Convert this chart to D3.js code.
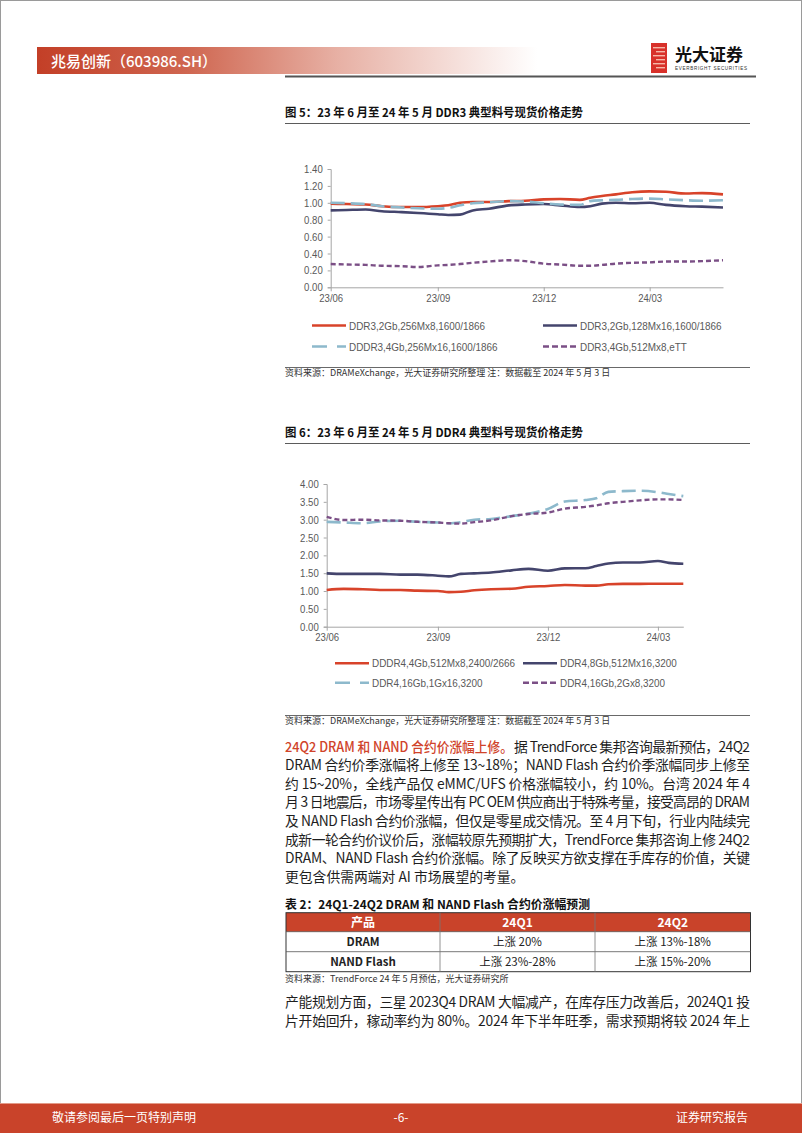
<!DOCTYPE html>
<html><head><meta charset="utf-8">
<script src="https://cdn.jsdelivr.net/npm/d3@7"></script>
<style>
html,body{margin:0;padding:0;background:#fff;}
svg{display:block;}
</style></head>
<body>
<svg id="page" width="802" height="1133"></svg>
<script>
// ---------------- DATA ----------------
const ddr3Dates = ["2023-06-01","2023-06-15","2023-07-01","2023-07-15","2023-08-01","2023-08-15","2023-09-01","2023-09-10","2023-09-20","2023-10-01","2023-10-15","2023-11-01","2023-11-15","2023-12-01","2023-12-15","2024-01-01","2024-01-10","2024-01-20","2024-02-01","2024-02-15","2024-03-01","2024-03-15","2024-04-01","2024-04-15","2024-05-03"];
const ddr3_2Gb_256Mx8   = [0.99,0.985,0.98,0.96,0.95,0.95,0.96,0.97,1.00,1.01,1.01,1.02,1.025,1.04,1.045,1.035,1.06,1.08,1.10,1.125,1.135,1.13,1.11,1.115,1.10];
const ddr3_2Gb_128Mx16  = [0.91,0.915,0.92,0.90,0.89,0.88,0.865,0.855,0.86,0.91,0.93,0.97,0.98,0.985,0.97,0.95,0.96,0.99,1.00,0.995,1.00,0.975,0.96,0.955,0.945];
const ddr3_4Gb_256Mx16  = [1.00,0.995,0.985,0.96,0.945,0.935,0.93,0.94,0.97,0.995,1.005,1.02,1.015,0.995,0.98,0.975,1.02,1.03,1.035,1.045,1.05,1.04,1.03,1.025,1.03];
const ddr3_4Gb_512Mx8   = [0.275,0.27,0.265,0.255,0.25,0.24,0.26,0.265,0.275,0.29,0.305,0.32,0.31,0.28,0.27,0.255,0.255,0.265,0.28,0.29,0.295,0.305,0.305,0.31,0.32];
const ddr3Names = ["DDR3,2Gb,256Mx8,1600/1866","DDR3,2Gb,128Mx16,1600/1866","DDDR3,4Gb,256Mx16,1600/1866","DDR3,4Gb,512Mx8,eTT"];
const ddr3Ticks = ["0.00","0.20","0.40","0.60","0.80","1.00","1.20","1.40"];

const ddr4Dates = ["2023-06-01","2023-06-15","2023-07-01","2023-07-15","2023-08-01","2023-08-15","2023-09-01","2023-09-10","2023-09-20","2023-10-01","2023-10-15","2023-11-01","2023-11-15","2023-12-01","2023-12-15","2024-01-01","2024-01-10","2024-01-20","2024-02-01","2024-02-15","2024-03-01","2024-03-10","2024-03-22"];
const ddr4_4Gb_512Mx8   = [1.03,1.06,1.05,1.03,1.03,1.01,1.00,0.97,0.98,1.02,1.05,1.065,1.12,1.14,1.17,1.15,1.15,1.19,1.20,1.20,1.205,1.205,1.205];
const ddr4_8Gb_512Mx16  = [1.495,1.48,1.48,1.48,1.46,1.46,1.43,1.41,1.48,1.495,1.52,1.58,1.62,1.57,1.635,1.64,1.70,1.77,1.80,1.80,1.84,1.79,1.765];
const ddr4_16Gb_1Gx16   = [2.94,2.92,2.90,2.95,2.97,2.94,2.92,2.90,2.93,3.00,3.02,3.10,3.17,3.30,3.51,3.55,3.60,3.78,3.80,3.81,3.77,3.72,3.66];
const ddr4_16Gb_2Gx8    = [3.08,2.99,3.00,2.98,2.97,2.94,2.92,2.90,2.89,2.93,2.98,3.10,3.16,3.20,3.31,3.36,3.40,3.46,3.50,3.54,3.57,3.57,3.55];
const ddr4Names = ["DDDR4,4Gb,512Mx8,2400/2666","DDR4,8Gb,512Mx16,3200","DDR4,16Gb,1Gx16,3200","DDR4,16Gb,2Gx8,3200"];
const ddr4Ticks = ["0.00","0.50","1.00","1.50","2.00","2.50","3.00","3.50","4.00"];

const xTickDates = ["2023-06-01","2023-09-01","2023-12-01","2024-03-01"];
const xTickLabels = ["23/06","23/09","23/12","24/03"];

const tableHeader = ["产品","24Q1","24Q2"];
const tableRows = [["DRAM","上涨 20%","上涨 13%-18%"],["NAND Flash","上涨 23%-28%","上涨 15%-20%"]];

// ---------------- STYLE ----------------
const RED = "#c9432a";
const seriesStyles = [
  {color:"#d8432a", dash:null, w:2.6},
  {color:"#44456d", dash:null, w:2.6},
  {color:"#8db9cc", dash:"14,6", w:2.6},
  {color:"#7b4f86", dash:"5,3", w:2.4}
];
const CJK = "'Noto Sans CJK SC','Noto Sans',sans-serif";
const LAT = "'Liberation Sans',Arial,sans-serif";
const SQUEEZE = 0.87;

const svg = d3.select("#page");
const parse = d3.timeParse("%Y-%m-%d");

function squeeze(sel, f){
  sel.each(function(){
    const w = this.getComputedTextLength();
    d3.select(this).attr("textLength", w*f).attr("lengthAdjust","spacingAndGlyphs");
  });
}

// page border
svg.append("rect").attr("x",0.5).attr("y",0.5).attr("width",801).attr("height",1132).attr("fill","none").attr("stroke","#9a9a9a").attr("stroke-width",1);

// ---------------- HEADER ----------------
const defs = svg.append("defs");
const g1 = defs.append("linearGradient").attr("id","hdrGrad").attr("x1","0").attr("x2","1").attr("y1","0").attr("y2","0");
g1.append("stop").attr("offset","0%").attr("stop-color","#c33f27");
g1.append("stop").attr("offset","30%").attr("stop-color","#cf6650");
g1.append("stop").attr("offset","60%").attr("stop-color","#e7b0a4");
g1.append("stop").attr("offset","100%").attr("stop-color","#ffffff");
svg.append("rect").attr("x",37).attr("y",47).attr("width",500).attr("height",27).attr("fill","url(#hdrGrad)");
svg.append("text").attr("x",51).attr("y",66.5).attr("fill","#fff").attr("font-family",CJK).attr("font-size",15).attr("font-weight",500).text("兆易创新（603986.SH）");
svg.append("rect").attr("x",285).attr("y",75.5).attr("width",471).attr("height",2).attr("fill","#555");

// logo
const logo = svg.append("g");
logo.append("rect").attr("x",651).attr("y",43).attr("width",16).attr("height",30).attr("fill","#d8312a");
[47,51,55,59,63,67].forEach((yy,i)=>{
  logo.append("rect").attr("x",651+(i%2?5:2)).attr("y",yy).attr("width",14-(i%2?5:2)).attr("height",1.4).attr("fill","#f6b7a8");
});
logo.append("text").attr("x",675).attr("y",61).attr("font-family",CJK).attr("font-size",17).attr("font-weight",700).attr("fill","#111").text("光大证券");
logo.append("text").attr("x",675).attr("y",70).attr("font-family",LAT).attr("font-size",4.6).attr("fill","#333").attr("textLength",72).text("EVERBRIGHT SECURITIES");

// ---------------- CHART HELPERS ----------------
function titleBlock(y, text, len){
  svg.append("text").attr("x",285).attr("y",y).attr("font-family",CJK).attr("font-size",12).attr("font-weight",700).attr("fill","#111")
    .attr("textLength",len).attr("lengthAdjust","spacingAndGlyphs").text(text);
  svg.append("rect").attr("x",285).attr("y",y+6).attr("width",465).attr("height",0.8).attr("fill","#333");
}
function sourceBlock(y, text){
  svg.append("rect").attr("x",285).attr("y",y-9).attr("width",465).attr("height",0.8).attr("fill","#444");
  svg.append("text").attr("x",285).attr("y",y).attr("font-family",CJK).attr("font-size",9).attr("fill","#333").text(text);
}

function drawChart(cfg){
  const x = d3.scaleTime().domain(cfg.xDomain.map(parse)).range(cfg.xRange);
  const y = d3.scaleLinear().domain([0, cfg.yMax]).range(cfg.yRange);
  const g = svg.append("g");
  const yAxis = d3.axisLeft(y).tickValues(cfg.ticks.map(Number)).tickFormat((d,i)=>cfg.ticks[i]).tickSize(3).tickPadding(5);
  const ya = g.append("g").attr("transform",`translate(${cfg.xRange[0]},0)`).call(yAxis);
  ya.select(".domain").attr("stroke","#a6a6a6");
  ya.selectAll(".tick line").attr("stroke","#a6a6a6");
  ya.selectAll("text").attr("font-family",LAT).attr("font-size",11).attr("fill","#595959").call(squeeze,SQUEEZE);
  const xAxis = d3.axisBottom(x).tickValues(xTickDates.map(parse)).tickFormat((d,i)=>xTickLabels[i]).tickSize(4).tickSizeOuter(0).tickPadding(3);
  const xa = g.append("g").attr("transform",`translate(0,${cfg.yRange[0]})`).call(xAxis);
  xa.select(".domain").attr("stroke","#a6a6a6");
  xa.selectAll(".tick line").attr("stroke","#a6a6a6");
  xa.selectAll("text").attr("font-family",LAT).attr("font-size",11).attr("fill","#595959").call(squeeze,SQUEEZE);
  const dates = cfg.dates.map(parse);
  const line = d3.line().x((d,i)=>x(dates[i])).y(d=>y(d)).curve(d3.curveMonotoneX);
  cfg.series.forEach((s,k)=>{
    const st = seriesStyles[k];
    g.append("path").datum(s).attr("d",line).attr("fill","none").attr("stroke",st.color)
      .attr("stroke-width",st.w).attr("stroke-dasharray",st.dash).attr("stroke-linejoin","round");
  });
  // legend
  cfg.legend.forEach((L,k)=>{
    const st = seriesStyles[k];
    g.append("line").attr("x1",L.x).attr("x2",L.x+34).attr("y1",L.y).attr("y2",L.y)
      .attr("stroke",st.color).attr("stroke-width",st.w).attr("stroke-dasharray",k===2?"15,10":(k===3?"6,3":null));
    g.append("text").attr("x",L.x+37).attr("y",L.y+4).attr("font-family",LAT).attr("font-size",11).attr("fill","#595959").text(cfg.names[k]).call(squeeze,0.9);
  });
}

// ---------------- CHART 1 ----------------
titleBlock(117, "图 5：23 年 6 月至 24 年 5 月 DDR3 典型料号现货价格走势", 298);
drawChart({
  xDomain:["2023-06-01","2024-05-03"], xRange:[330.7,723],
  yMax:1.4, yRange:[287.3,169], ticks:ddr3Ticks, dates:ddr3Dates,
  series:[ddr3_2Gb_256Mx8, ddr3_2Gb_128Mx16, ddr3_4Gb_256Mx16, ddr3_4Gb_512Mx8],
  names:ddr3Names,
  legend:[{x:312,y:325.5},{x:543,y:325.5},{x:312,y:346.5},{x:543,y:346.5}]
});
sourceBlock(376, "资料来源：DRAMeXchange，光大证券研究所整理  注：数据截至 2024 年 5 月 3 日");

// ---------------- CHART 2 ----------------
titleBlock(437, "图 6：23 年 6 月至 24 年 5 月 DDR4 典型料号现货价格走势", 298);
drawChart({
  xDomain:["2023-06-01","2024-03-22"], xRange:[326.7,683.3],
  yMax:4, yRange:[626.7,484], ticks:ddr4Ticks, dates:ddr4Dates,
  series:[ddr4_4Gb_512Mx8, ddr4_8Gb_512Mx16, ddr4_16Gb_1Gx16, ddr4_16Gb_2Gx8],
  names:ddr4Names,
  legend:[{x:335,y:663.3},{x:523,y:663.3},{x:335,y:682.7},{x:523,y:682.7}]
});
sourceBlock(724, "资料来源：DRAMeXchange，光大证券研究所整理  注：数据截至 2024 年 5 月 3 日");

// ---------------- BODY TEXT ----------------
const bodyLines = [
  "DRAM 合约价季涨幅将上修至 13~18%；NAND Flash 合约价季涨幅同步上修至",
  "约 15~20%，全线产品仅 eMMC/UFS 价格涨幅较小，约 10%。台湾 2024 年 4",
  "月 3 日地震后，市场零星传出有 PC OEM 供应商出于特殊考量，接受高昂的 DRAM",
  "及 NAND Flash 合约价涨幅，但仅是零星成交情况。至 4 月下旬，行业内陆续完",
  "成新一轮合约价议价后，涨幅较原先预期扩大，TrendForce 集邦咨询上修 24Q2",
  "DRAM、NAND Flash 合约价涨幅。除了反映买方欲支撑在手库存的价值，关键",
  "更包含供需两端对 AI 市场展望的考量。"
];
const L0 = 285, R0 = 750, FS = 13.8;
const lead = svg.append("text").attr("x",L0).attr("y",751.5).attr("font-family",CJK).attr("font-size",FS).attr("font-weight",500).attr("fill","#d0432a").text("24Q2 DRAM 和 NAND 合约价涨幅上修。");
squeeze(lead, 0.92);
const lw = +lead.attr("textLength");
svg.append("text").attr("x",L0+lw+1).attr("y",751.5).attr("font-family",CJK).attr("font-size",FS).attr("fill","#1e1e1e")
  .attr("textLength",R0-L0-lw-1).attr("lengthAdjust","spacing").text("据 TrendForce 集邦咨询最新预估，24Q2");
bodyLines.forEach((t,i)=>{
  const tx = svg.append("text").attr("x",L0).attr("y",751.5+(i+1)*18.6).attr("font-family",CJK).attr("font-size",FS).attr("fill","#1e1e1e").text(t);
  if(i<bodyLines.length-1) tx.attr("textLength",R0-L0).attr("lengthAdjust","spacing");
});

// ---------------- TABLE ----------------
svg.append("text").attr("x",285).attr("y",909).attr("font-family",CJK).attr("font-size",12).attr("font-weight",700).attr("fill","#111")
  .attr("textLength",305).attr("lengthAdjust","spacingAndGlyphs").text("表 2：24Q1-24Q2 DRAM 和 NAND Flash 合约价涨幅预测");
const colX = [286,440,595,750.5];
const rowY = [912.7,931.7,951.7,971.7];
svg.append("rect").attr("x",colX[0]).attr("y",rowY[0]).attr("width",colX[3]-colX[0]).attr("height",rowY[1]-rowY[0]).attr("fill","#c9432a");
svg.append("rect").attr("x",colX[0]).attr("y",rowY[0]).attr("width",colX[3]-colX[0]).attr("height",rowY[3]-rowY[0]).attr("fill","none").attr("stroke","#333").attr("stroke-width",1);
[1,2].forEach(r=>svg.append("line").attr("x1",colX[0]).attr("x2",colX[3]).attr("y1",rowY[r]).attr("y2",rowY[r]).attr("stroke","#555").attr("stroke-width",0.8));
[1,2].forEach(c=>svg.append("line").attr("x1",colX[c]).attr("x2",colX[c]).attr("y1",rowY[0]).attr("y2",rowY[3]).attr("stroke","#777").attr("stroke-width",0.8));
tableHeader.forEach((h,c)=>{
  svg.append("text").attr("x",(colX[c]+colX[c+1])/2).attr("y",rowY[0]+14).attr("text-anchor","middle").attr("font-family",CJK).attr("font-size",12).attr("font-weight",700).attr("fill","#fff").text(h);
});
tableRows.forEach((row,r)=>{
  row.forEach((v,c)=>{
    svg.append("text").attr("x",(colX[c]+colX[c+1])/2).attr("y",rowY[r+1]+14.5).attr("text-anchor","middle").attr("font-family",CJK).attr("font-size",11.5).attr("font-weight",c===0?700:400).attr("fill","#222").text(v);
  });
});
svg.append("text").attr("x",285).attr("y",982).attr("font-family",CJK).attr("font-size",9).attr("fill","#333").text("资料来源：TrendForce 24 年 5 月预估，光大证券研究所");

// ---------------- PARAGRAPH 2 ----------------
const para2 = [
  "产能规划方面，三星 2023Q4 DRAM 大幅减产，在库存压力改善后，2024Q1 投",
  "片开始回升，稼动率约为 80%。2024 年下半年旺季，需求预期将较 2024 年上"
];
para2.forEach((t,i)=>{
  svg.append("text").attr("x",L0).attr("y",1007+i*18.6).attr("font-family",CJK).attr("font-size",FS).attr("fill","#1e1e1e")
    .attr("textLength",R0-L0).attr("lengthAdjust","spacing").text(t);
});

// ---------------- FOOTER ----------------
svg.append("rect").attr("x",0).attr("y",1103).attr("width",802).attr("height",30).attr("fill",RED);
svg.append("rect").attr("x",0).attr("y",1103).attr("width",802).attr("height",1).attr("fill","#e39a88");
svg.append("text").attr("x",52).attr("y",1122).attr("font-family",CJK).attr("font-size",12).attr("fill","#fff").text("敬请参阅最后一页特别声明");
svg.append("text").attr("x",401).attr("y",1122).attr("text-anchor","middle").attr("font-family",CJK).attr("font-size",12).attr("fill","#fff").text("-6-");
svg.append("text").attr("x",748).attr("y",1122).attr("text-anchor","end").attr("font-family",CJK).attr("font-size",12).attr("fill","#fff").text("证券研究报告");
</script>
</body></html>
